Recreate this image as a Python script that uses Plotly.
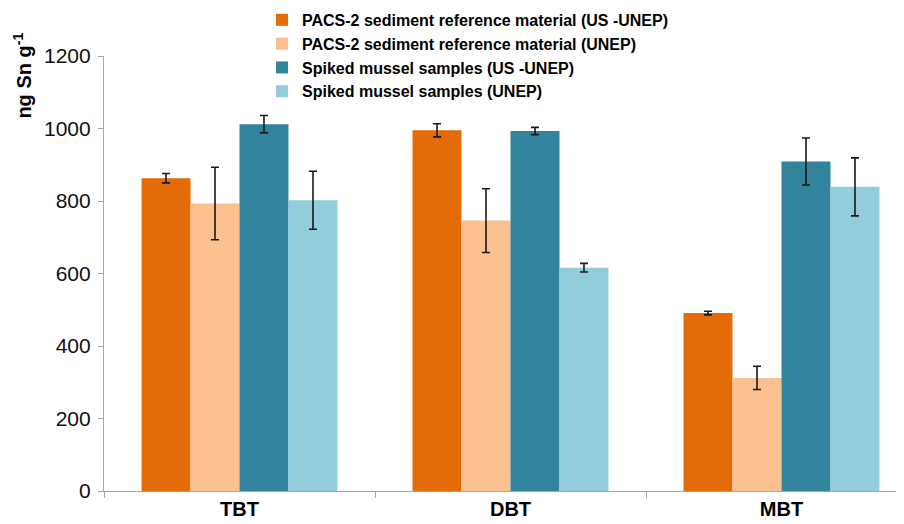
import plotly.graph_objects as go

categories = ["TBT", "DBT", "MBT"]

series_names = [
    "PACS-2 sediment reference material (US -UNEP)",
    "PACS-2 sediment reference material (UNEP)",
    "Spiked mussel samples (US -UNEP)",
    "Spiked mussel samples (UNEP)",
]
pacs_us_unep = [863, 995, 491]
pacs_unep = [793, 746, 312]
mussel_us_unep = [1012, 993, 909]
mussel_unep = [802, 616, 839]

pacs_us_unep_err = [13, 18, 5]
pacs_unep_err = [100, 88, 32]
mussel_us_unep_err = [24, 10, 65]
mussel_unep_err = [80, 12, 80]

colors = ["#E36C09", "#FAC090", "#31849B", "#92CDDC"]

y_ticks = [0, 200, 400, 600, 800, 1000, 1200]
y_title = "ng Sn g<sup>-1</sup>"

values = [pacs_us_unep, pacs_unep, mussel_us_unep, mussel_unep]
errors = [pacs_us_unep_err, pacs_unep_err, mussel_us_unep_err, mussel_unep_err]

fig = go.Figure()
for name, vals, errs, col in zip(series_names, values, errors, colors):
    fig.add_trace(go.Bar(
        x=categories, y=vals, name=name,
        marker=dict(color=col, line=dict(width=0)),
        error_y=dict(type="data", array=errs, visible=True,
                     color="#1a1a1a", thickness=1.6, width=4),
    ))

font_family = "Liberation Sans, Arial, sans-serif"

fig.update_layout(
    width=896, height=516,
    margin=dict(l=96, r=0, t=48, b=33, autoexpand=False),
    paper_bgcolor="white", plot_bgcolor="white",
    barmode="group", bargap=0.277, bargroupgap=0,
    font=dict(family=font_family, color="#000000"),
    legend=dict(
        x=0.1975, y=1.122, xanchor="left", yanchor="top",
        font=dict(family=font_family, size=16, color="#000000", weight="bold"),
        bgcolor="rgba(0,0,0,0)", borderwidth=0, tracegroupgap=0,
    ),
    showlegend=True,
    annotations=[dict(
        text=y_title, xref="paper", yref="paper", x=-0.103, y=0.954,
        xanchor="center", yanchor="middle", textangle=-90, showarrow=False,
        font=dict(family=font_family, size=20, color="#000000", weight="bold"),
    )],
)

fig.update_xaxes(
    type="category", range=[-0.5, 2.452],
    showline=True, linecolor="#A6A6A6", linewidth=1.2,
    ticks="outside", tickson="boundaries", ticklen=6, tickcolor="#A6A6A6",
    tickfont=dict(family=font_family, size=20, color="#000000", weight="bold"),
    showgrid=False, automargin=False,
)

fig.update_yaxes(
    range=[0, 1200], tickvals=y_ticks,
    showline=True, linecolor="#A6A6A6", linewidth=1.2,
    ticks="outside", ticklen=5, tickcolor="#A6A6A6", ticklabelstandoff=3,
    tickfont=dict(family=font_family, size=21, color="#111111"),
    showgrid=False, zeroline=False, automargin=False,
)

fig.write_html("out.html")
